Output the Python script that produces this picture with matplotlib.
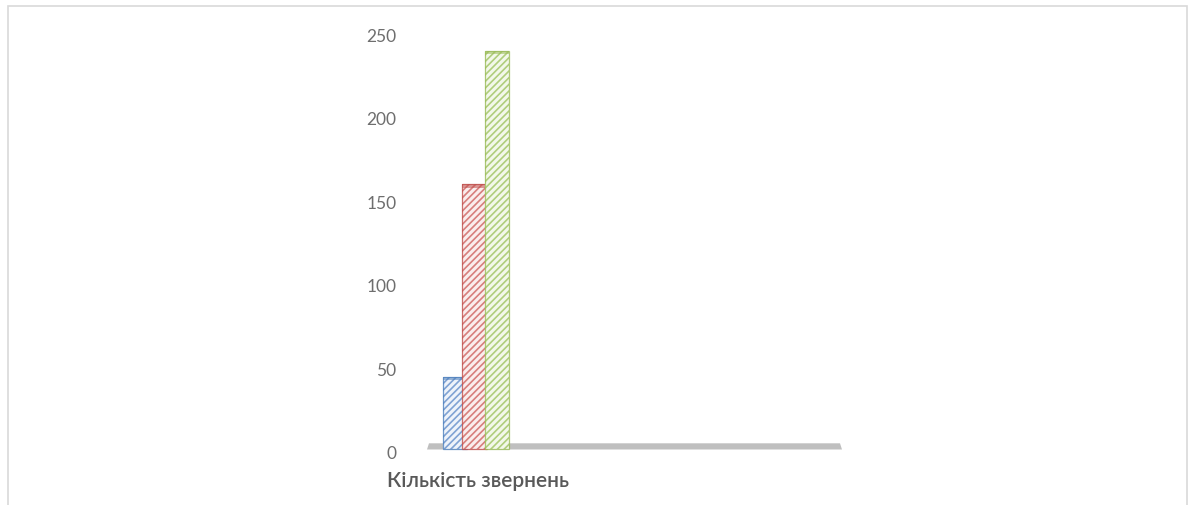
import matplotlib
matplotlib.use('Agg')
import matplotlib.pyplot as plt
from matplotlib.patches import Rectangle, Polygon

plt.rcParams['font.family'] = ['Lato', 'DejaVu Sans']
plt.rcParams['hatch.linewidth'] = 1.2

# data
categories = ['Кількість звернень']
series_values = [45, 160, 240]
series_colors = ['#4F81BD', '#C0504D', '#9BBB59']
hatch_colors = ['#7FA2D3', '#D77E7C', '#B0CE7C']
series_faces = ['#EEF3FA', '#FAEDED', '#F3F8EA']
yticks = [0, 50, 100, 150, 200, 250]

W, H = 1195, 506
fig = plt.figure(figsize=(W / 100, H / 100), dpi=100)

# outer light frame like the Excel chart area
fig.patches.append(Rectangle((8 / W, -0.1), (1187 - 8) / W, (H - 7) / H + 0.1,
                             transform=fig.transFigure, fill=False,
                             edgecolor='#D9D9D9', linewidth=1.2))

# plot area: x from px 427 to 842, y from px 453 (0) to 35 (250)
ax = fig.add_axes([427 / W, (H - 453) / H, (842 - 427) / W, (453 - 35) / H])
ax.set_xlim(0, 4.15)
ax.set_ylim(0, 250)

# grey floor
floor = Polygon([(0, 1.5), (0.02, 5.2), (4.13, 5.2), (4.15, 1.5)], closed=True,
                facecolor='#BFBFBF', edgecolor='none', clip_on=False, zorder=1)
ax.add_patch(floor)

offsets = [-0.195, 0, 0.225]
width = 0.245
center = 0.475
for i, (v, off, c, hc, fc) in enumerate(zip(series_values, offsets, series_colors,
                                             hatch_colors, series_faces)):
    z = 3 + i * 3
    ax.bar(center + off, v - 1.5, bottom=1.5, width=width, color=fc, edgecolor=hc,
           hatch='/////', linewidth=0, zorder=z)
    ax.bar(center + off, v - 1.5, bottom=1.5, width=width, fill=False, edgecolor=c,
           linewidth=0.9, alpha=0.8, zorder=z + 1)
    # darker top cap
    ax.bar(center + off, 2.0, bottom=v - 2.0, width=width, color=c, alpha=0.55,
           linewidth=0, zorder=z + 2)

ax.set_xticks([])
ax.set_yticks(yticks)
ax.tick_params(axis='y', length=0, pad=22, labelsize=12.5, labelcolor='#6E6E6E')
for s in ax.spines.values():
    s.set_visible(False)

fig.text(387 / W, (H - 481) / H, categories[0], ha='left', va='center',
         fontsize=15, fontweight='semibold', color='#595959')

fig.savefig('out.png', dpi=100)
